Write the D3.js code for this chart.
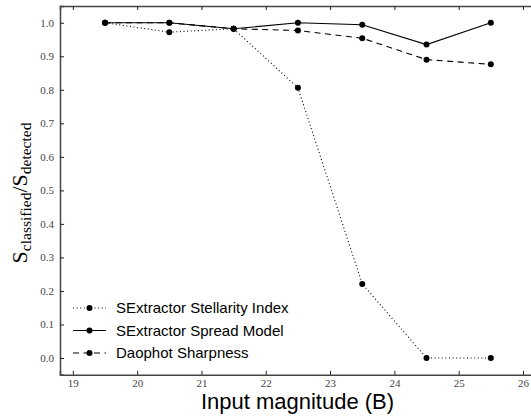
<!DOCTYPE html>
<html><head><meta charset="utf-8">
<script src="https://cdn.jsdelivr.net/npm/d3@7"></script>
<style>body{margin:0;background:#fff}svg{display:block}</style>
</head><body>
<svg id="c" width="531" height="416"></svg>
<script>
const mags = [19.5, 20.5, 21.5, 22.5, 23.5, 24.5, 25.5];
const stellarity = [1.0, 0.972, 0.982, 0.806, 0.221, 0.0, 0.0];
const spreadModel = [1.0, 1.0, 0.982, 1.0, 0.994, 0.935, 1.0];
const sharpness = [1.0, 1.0, 0.982, 0.977, 0.954, 0.89, 0.876];
const seriesNames = ["SExtractor Stellarity Index", "SExtractor Spread Model", "Daophot Sharpness"];
const xTicks = [19, 20, 21, 22, 23, 24, 25, 26];
const yTicks = [0.0, 0.1, 0.2, 0.3, 0.4, 0.5, 0.6, 0.7, 0.8, 0.9, 1.0];

const svg = d3.select("#c");
const L = 60, T = 6, R = 537, B = 374.75;
const x = d3.scaleLinear().domain([18.8, 26.218]).range([L, R]);
const y = d3.scaleLinear().domain([-0.05, 1.05]).range([B, T]);

const serif = "'Liberation Serif', 'DejaVu Serif', serif";
const sans = "'Liberation Sans', Arial, sans-serif";
const frameCol = "#444";

const gB = svg.append("g").attr("transform", `translate(0,${B})`)
  .call(d3.axisBottom(x).tickValues(xTicks).tickSize(-4).tickPadding(4).tickFormat(d3.format("d")));
const gT = svg.append("g").attr("transform", `translate(0,${T})`)
  .call(d3.axisTop(x).tickValues(xTicks).tickSize(-4).tickFormat(""));
const gL = svg.append("g").attr("transform", `translate(${L},0)`)
  .call(d3.axisLeft(y).tickValues(yTicks).tickSize(-4).tickPadding(6).tickFormat(d3.format(".1f")));
const gR = svg.append("g").attr("transform", `translate(${R},0)`)
  .call(d3.axisRight(y).tickValues(yTicks).tickSize(-4).tickFormat(""));
[gB, gT, gL, gR].forEach(g => {
  g.attr("font-family", serif).attr("font-size", 11);
  g.select(".domain").attr("stroke", frameCol).attr("stroke-width", 1.5);
  g.selectAll(".tick line").attr("stroke", "#222").attr("stroke-width", 1);
  g.selectAll("text").attr("fill", "#444");
});

const styles = [
  {vals: stellarity, dash: "1,2.6", w: 1.1},
  {vals: spreadModel, dash: null, w: 1.1},
  {vals: sharpness, dash: "6,4.5", w: 1.1}
];
const line = d3.line().x(d => x(d[0])).y(d => y(d[1]));
styles.forEach(s => {
  const pts = mags.map((m, i) => [m, s.vals[i]]);
  svg.append("path").datum(pts).attr("d", line).attr("fill", "none")
    .attr("stroke", "#000").attr("stroke-width", s.w)
    .attr("stroke-dasharray", s.dash);
  svg.selectAll(null).data(pts).enter().append("circle")
    .attr("cx", d => x(d[0])).attr("cy", d => y(d[1])).attr("r", 3).attr("fill", "#000");
});

const legY = [308, 330.5, 353];
styles.forEach((s, i) => {
  const g = svg.append("g");
  g.append("line").attr("x1", 73).attr("x2", 106).attr("y1", legY[i]).attr("y2", legY[i])
    .attr("stroke", "#000").attr("stroke-width", s.w).attr("stroke-dasharray", s.dash);
  g.append("circle").attr("cx", 89.5).attr("cy", legY[i]).attr("r", 3).attr("fill", "#000");
  g.append("text").attr("x", 116).attr("y", legY[i]).attr("dy", "0.35em")
    .attr("font-family", sans).attr("font-size", 15).attr("fill", "#000").text(seriesNames[i]);
});

svg.append("text").attr("x", 297.5).attr("y", 409).attr("text-anchor", "middle")
  .attr("font-family", sans).attr("font-size", 22).attr("fill", "#000").text("Input magnitude (B)");

const yl = svg.append("text").attr("transform", "translate(27,193) rotate(-90)")
  .attr("text-anchor", "middle").attr("font-family", serif).attr("font-size", 22).attr("fill", "#000");
yl.append("tspan").text("S");
yl.append("tspan").attr("font-size", 15.5).attr("dy", 3.5).text("classified");
yl.append("tspan").attr("dy", -3.5).text("/S");
yl.append("tspan").attr("font-size", 15.5).attr("dy", 3.5).text("detected");
</script>
</body></html>
